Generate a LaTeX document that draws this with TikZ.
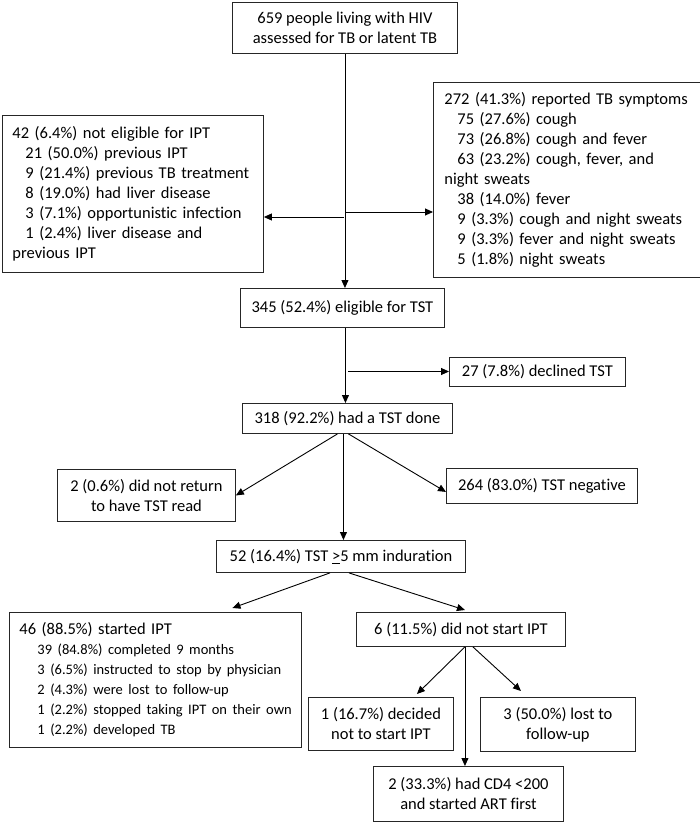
\documentclass[tikz,border=0pt]{standalone}
\usepackage{fontspec}
\setmainfont{Carlito}[Ligatures=NoCommon]
\usetikzlibrary{arrows.meta}
\newcommand{\ind}{\hspace*{13pt}}
\newcommand{\subln}[1]{\hspace*{18pt}\mbox{\fontsize{14.5}{20}\selectfont #1}}

\begin{document}
\begin{tikzpicture}[x=1pt,y=1pt,
  >={Triangle[length=8pt,width=7pt]},
  box/.style={draw=black!85, line width=0.9pt, anchor=north west, inner sep=0pt,
    align=center, font=\fontsize{16.5}{20}\selectfont},
  lbox/.style={box, align=left, inner xsep=10pt},
  conn/.style={->, line width=0.9pt}]
\useasboundingbox (0,0) rectangle (699,-822);

% boxes
\node[box, minimum width=225pt, minimum height=51pt] (top) at (232,-2)
  {659 people living with HIV\\assessed for TB or latent TB};
\node[lbox, text width=241pt, minimum height=157pt] (noelig) at (2,-115)
  {42 (6.4\%) not eligible for IPT\\
   \ind 21 (50.0\%) previous IPT\\
   \ind 9 (21.4\%) previous TB treatment\\
   \ind 8 (19.0\%) had liver disease\\
   \ind 3 (7.1\%) opportunistic infection\\
   \ind 1 (2.4\%) liver disease and\\
   previous IPT};
\node[lbox, text width=245pt, minimum height=195pt, inner xsep=11pt] (sympt) at (433,-82)
  {272 (41.3\%) reported TB symptoms\\
   \ind 75 (27.6\%) cough\\
   \ind 73 (26.8\%) cough and fever\\
   \ind 63 (23.2\%) cough, fever, and\\
   night sweats\\
   \ind 38 (14.0\%) fever\\
   \ind 9 (3.3\%) cough and night sweats\\
   \ind 9 (3.3\%) fever and night sweats\\
   \ind 5 (1.8\%) night sweats};
\node[box, minimum width=204pt, minimum height=39pt] (elig) at (240,-288)
  {345 (52.4\%) eligible for TST};
\node[box, minimum width=176pt, minimum height=29pt] (declined) at (449,-357)
  {27 (7.8\%) declined TST};
\node[box, minimum width=210pt, minimum height=30pt] (tst) at (242,-403)
  {318 (92.2\%) had a TST done};
\node[box, minimum width=178pt, minimum height=52pt] (noreturn) at (57,-469)
  {2 (0.6\%) did not return\\to have TST read};
\node[box, minimum width=191pt, minimum height=35pt] (negative) at (446,-468)
  {264 (83.0\%) TST negative};
\node[box, minimum width=249pt, minimum height=32pt] (indur) at (216,-540)
  {52 (16.4\%) TST \underline{>}5 mm induration};
\node[lbox, text width=272pt, minimum height=135pt] (started) at (9,-612)
  {46 (88.5\%) started IPT\\
   \subln{39 (84.8\%) completed 9 months}\\
   \subln{3 (6.5\%) instructed to stop by physician}\\
   \subln{2 (4.3\%) were lost to follow-up}\\
   \subln{1 (2.2\%) stopped taking IPT on their own}\\
   \subln{1 (2.2\%) developed TB}};
\node[box, minimum width=209pt, minimum height=34pt] (notstart) at (356,-612)
  {6 (11.5\%) did not start IPT};
\node[box, minimum width=145pt, minimum height=53pt] (decided) at (308,-697)
  {1 (16.7\%) decided\\not to start IPT};
\node[box, minimum width=155pt, minimum height=54pt] (lost) at (480,-697)
  {3 (50.0\%) lost to\\follow-up};
\node[box, minimum width=190pt, minimum height=55pt] (cd4) at (373,-766)
  {2 (33.3\%) had CD4 <200\\and started ART first};

% arrows
\coordinate (jl) at (344,-217);
\coordinate (jr) at (345,-212);
\coordinate (jd) at (348,-371.5);
\draw[conn] (top.south) -- (top.south |- elig.north);
\draw[conn] (jl) -- (jl -| noelig.east);
\draw[conn] (jr) -- (jr -| sympt.west);
\draw[conn] ([xshift=3pt]elig.south) -- ([xshift=3pt]elig.south |- tst.north);
\draw[conn] (jd) -- (jd -| declined.west);
\draw[conn] ([xshift=-10pt]tst.south) -- (noreturn.east);
\draw[conn] ([xshift=1pt]tst.south) -- ([yshift=-6pt]negative.west);
\draw[conn] ([xshift=-4pt]tst.south) -- ([xshift=-4pt]tst.south |- indur.north);
\draw[conn] ([xshift=-11pt]indur.south) -- ([xshift=77pt,yshift=4pt]started.north);
\draw[conn] ([xshift=8pt]indur.south) -- ([xshift=4pt,yshift=2pt]notstart.north);
\draw[conn] ([xshift=4pt]notstart.south) -- ([xshift=36pt,yshift=3pt]decided.north);
\draw[conn] ([xshift=4pt]notstart.south) -- ([xshift=4pt]notstart.south |- cd4.north);
\draw[conn] ([xshift=12pt]notstart.south) -- ([xshift=-37pt,yshift=6pt]lost.north);
\end{tikzpicture}
\end{document}
